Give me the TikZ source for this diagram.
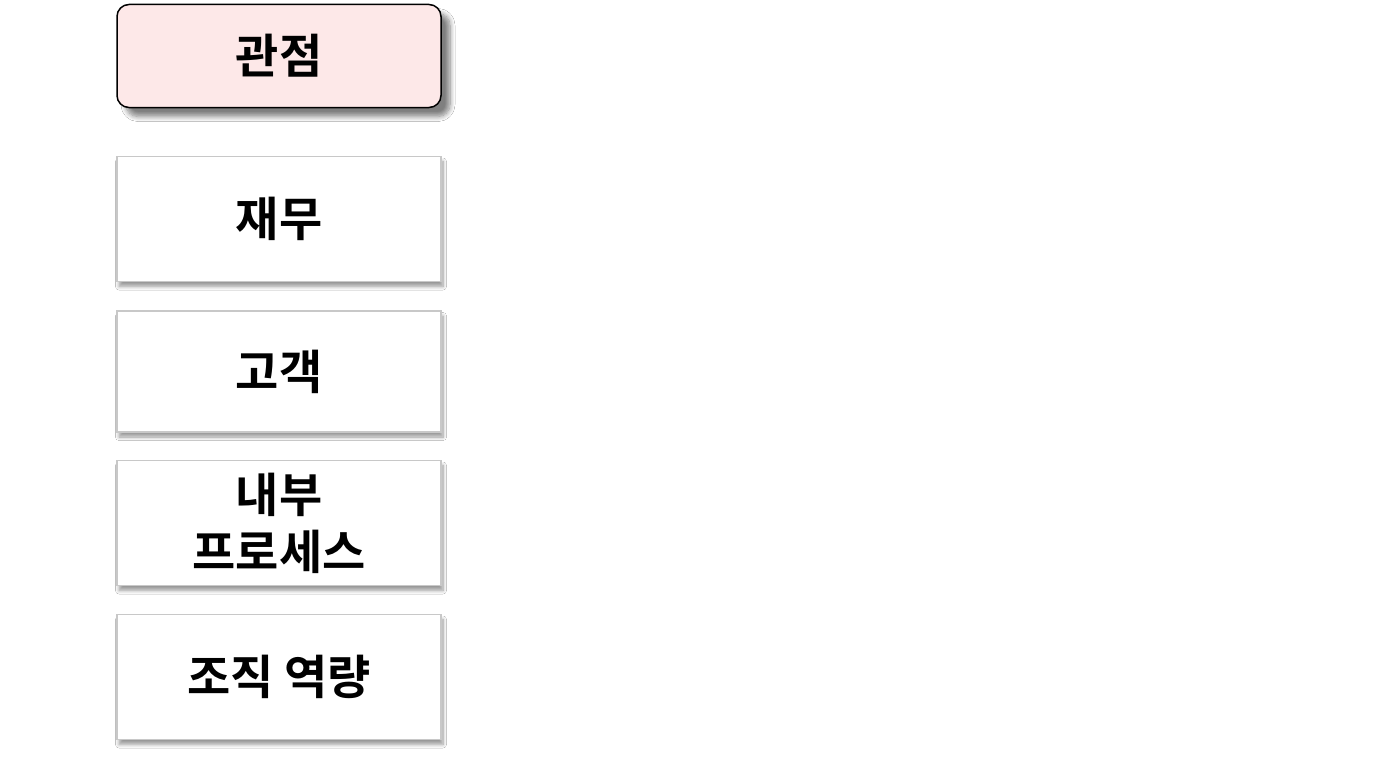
\documentclass[tikz,border=0pt]{standalone}
\usepackage{fontspec}
\newfontfamily\krfont{Noto Sans CJK KR}[BoldFont={Noto Sans CJK KR Bold}]
\usepackage{tikz}
\usetikzlibrary{shadows.blur}
\definecolor{headpink}{HTML}{FDE8E8}
\definecolor{boxgray}{HTML}{C8C8C8}

\begin{document}
\begin{tikzpicture}[x=1pt,y=-1pt]
\tikzset{head/.style={draw=black,line width=1.5pt,fill=headpink,rounded corners=12pt,minimum width=324pt,minimum height=103pt,
  font=\krfont\bfseries\fontsize{47}{56}\selectfont,blur shadow={shadow xshift=9pt,shadow yshift=-9pt,shadow blur radius=5pt,shadow blur steps=8,shadow opacity=50}},
 persp/.style={draw=boxgray,line width=1.6pt,fill=white,minimum width=324pt,minimum height=125pt,align=center,
  font=\krfont\bfseries\fontsize{47}{57}\selectfont,blur shadow={shadow xshift=2pt,shadow yshift=-5pt,shadow blur radius=3.5pt,shadow blur steps=8,shadow opacity=40}}}
\fill[white] (0,0) rectangle (1376,768);
\useasboundingbox (0,0) rectangle (1376,768);

\node[head] (gwanjeom) at (279,56) {관점};
\node[persp] (jaemu) at (279,219) {재무};
\node[persp,minimum height=121pt] (gogaek) at (279,371.5) {고객};
\node[persp] (naebu) at (279,523) {내부\\프로세스};
\node[persp] (jojik) at (279,677) {조직 역량};

\end{tikzpicture}
\end{document}
